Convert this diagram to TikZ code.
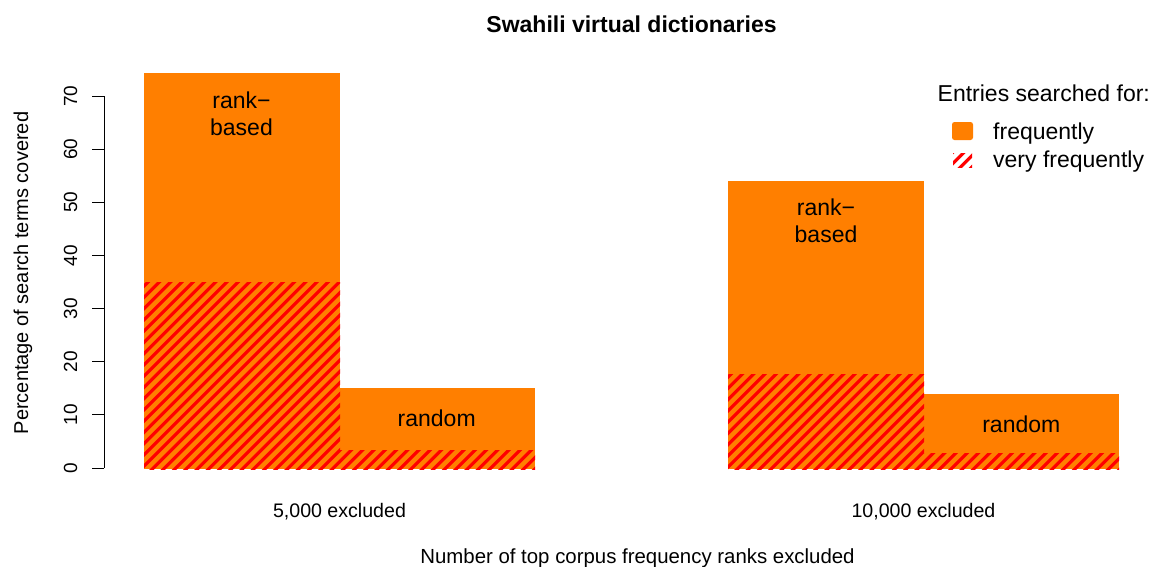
\documentclass[tikz,border=0pt]{standalone}
\usepackage{fontspec}
\setmainfont{Liberation Sans}
\definecolor{barorange}{RGB}{255,127,0}
\definecolor{hatchred}{RGB}{255,0,0}
\newcommand{\hatchrect}[4]{%
  \begin{scope}
    \clip (#1,#2) rectangle (#3,#4);
    \foreach \k in {-20,...,88}{
      \pgfmathsetmacro{\hc}{621.3+11.25*\k}
      \draw[hatchline] (\hc-480,480) -- (\hc-60,60);
    }
  \end{scope}}
\begin{document}
\begin{tikzpicture}[x=1pt,y=-1pt,
  hatchline/.style={hatchred,line width=3.1pt,line cap=round},
  bar/.style={fill=barorange,draw=none},
  big/.style={inner sep=0pt,font=\fontsize{23}{27}\selectfont},
  axlab/.style={inner sep=0pt,font=\fontsize{19.6}{23}\selectfont},
  ticklab/.style={inner sep=0pt,font=\fontsize{19}{22}\selectfont,rotate=90,anchor=base},
  axisline/.style={line width=1pt,black}]
\useasboundingbox[fill=white] (0,0) rectangle (1154,566);

% title
\node[big,font=\fontsize{23}{27}\selectfont\bfseries,anchor=base] (title) at (631.5,32) {Swahili virtual dictionaries};

% bars
\fill[bar] (144,73) rectangle (340,469);
\fill[bar] (340,388) rectangle (535,469);
\fill[bar] (728,181) rectangle (924,469);
\fill[bar] (924,394) rectangle (1119,469);

% hatching
\hatchrect{144}{282}{340}{469}
\hatchrect{340}{450}{535}{469}
\hatchrect{728}{374}{924}{469}
\hatchrect{924}{453}{1119}{469}

% bar labels
\node[big,anchor=base] (rb1a) at (241.5,108) {rank−};
\node[big,anchor=base] (rb1b) at (241.5,135) {based};
\node[big,anchor=base] (rnd1) at (436.7,426) {random};
\node[big,anchor=base] (rb2a) at (826,215) {rank−};
\node[big,anchor=base] (rb2b) at (826,242) {based};
\node[big,anchor=base] (rnd2) at (1021.3,432) {random};

% y axis
\coordinate (ya) at (104,468);
\coordinate (yb) at (104,96);
\draw[axisline] (ya) -- (yb);
\foreach \v in {0,10,...,70}{
  \pgfmathsetmacro{\yy}{468-5.314*\v}
  \coordinate (tk\v) at (104,\yy);
  \coordinate (tke\v) at (92,\yy);
  \draw[axisline] (tk\v) -- (tke\v);
  \node[ticklab] (tl\v) at (77,\yy) {\v};
}
\node[axlab,rotate=90,anchor=base,font=\fontsize{20}{24}\selectfont] (ylab) at (28,273) {Percentage of search terms covered};

% x labels
\node[axlab,anchor=base] (g1) at (339.5,517) {5,000 excluded};
\node[axlab,anchor=base] (g2) at (923.5,517) {10,000 excluded};
\node[axlab,anchor=base,font=\fontsize{20.4}{24}\selectfont] (xlab) at (637.5,563.5) {Number of top corpus frequency ranks excluded};

% legend
\node[big,anchor=base west] (legtitle) at (937.5,101.7) {Entries searched for:};
\fill[barorange,rounded corners=2.5pt] (952,122) rectangle (973,140);
\hatchrect{953}{153}{972}{167}
\node[big,anchor=base west] (leg1) at (993,139.3) {frequently};
\node[big,anchor=base west] (leg2) at (993,167.3) {very frequently};
\end{tikzpicture}
\end{document}
